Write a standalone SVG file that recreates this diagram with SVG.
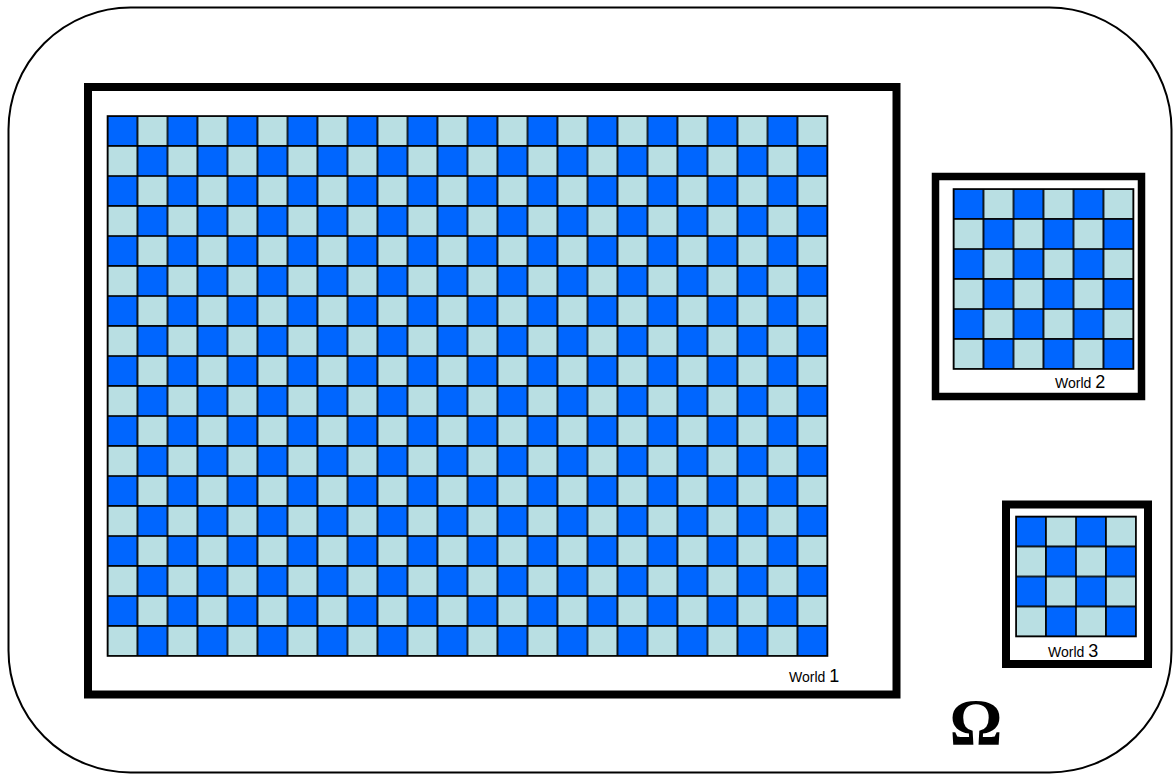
<svg xmlns="http://www.w3.org/2000/svg" width="1173" height="776" viewBox="0 0 1173 776">
  <style>
    .frame { fill: #ffffff; stroke: #000000; }
    .lbl { font-family: "Liberation Sans", Arial, sans-serif; fill: #000000; font-size: 14px; }
    .num { font-size: 18px; }
    .edge { fill: none; stroke: #000000; stroke-width: 1.6; }
  </style>
  <defs>
    <pattern id="chk" patternUnits="userSpaceOnUse" x="0" y="0" width="60" height="60">
      <rect x="0" y="0" width="30" height="30" fill="#0066ff" stroke="#000" stroke-width="1.6"/>
      <rect x="30" y="0" width="30" height="30" fill="#b9dfe3" stroke="#000" stroke-width="1.6"/>
      <rect x="0" y="30" width="30" height="30" fill="#b9dfe3" stroke="#000" stroke-width="1.6"/>
      <rect x="30" y="30" width="30" height="30" fill="#0066ff" stroke="#000" stroke-width="1.6"/>
    </pattern>
  </defs>
  <rect width="1173" height="776" fill="#ffffff"/>
  <g id="omega-set">
    <rect x="8.5" y="7.5" width="1163" height="765" rx="122" ry="122" fill="none" stroke="#000" stroke-width="2"/>
    <text x="976" y="744" text-anchor="middle" font-family="'Liberation Serif', 'Times New Roman', serif" font-weight="bold" font-size="66">Ω</text>
  </g>
  <g id="world1">
    <rect class="frame" x="88" y="87" width="808.5" height="607.5" stroke-width="8"/>
    <g transform="translate(107.5,116)">
      <rect x="0" y="0" width="720" height="540" fill="url(#chk)"/>
      <rect class="edge" x="0" y="0" width="720" height="540"/>
    </g>
    <text class="lbl" x="789" y="682">World <tspan class="num">1</tspan></text>
  </g>
  <g id="world2">
    <rect class="frame" x="935.5" y="176.5" width="206" height="220" stroke-width="7.5"/>
    <g transform="translate(953.5,189)">
      <rect x="0" y="0" width="180" height="180" fill="url(#chk)"/>
      <rect class="edge" x="0" y="0" width="180" height="180"/>
    </g>
    <text class="lbl" x="1055" y="388">World <tspan class="num">2</tspan></text>
  </g>
  <g id="world3">
    <rect class="frame" x="1006" y="504.5" width="142" height="159.5" stroke-width="8"/>
    <g transform="translate(1016,516.5)">
      <rect x="0" y="0" width="120" height="120" fill="url(#chk)"/>
      <rect class="edge" x="0" y="0" width="120" height="120"/>
    </g>
    <text class="lbl" x="1048" y="657">World <tspan class="num">3</tspan></text>
  </g>
  <g id="connectors"/>
</svg>
